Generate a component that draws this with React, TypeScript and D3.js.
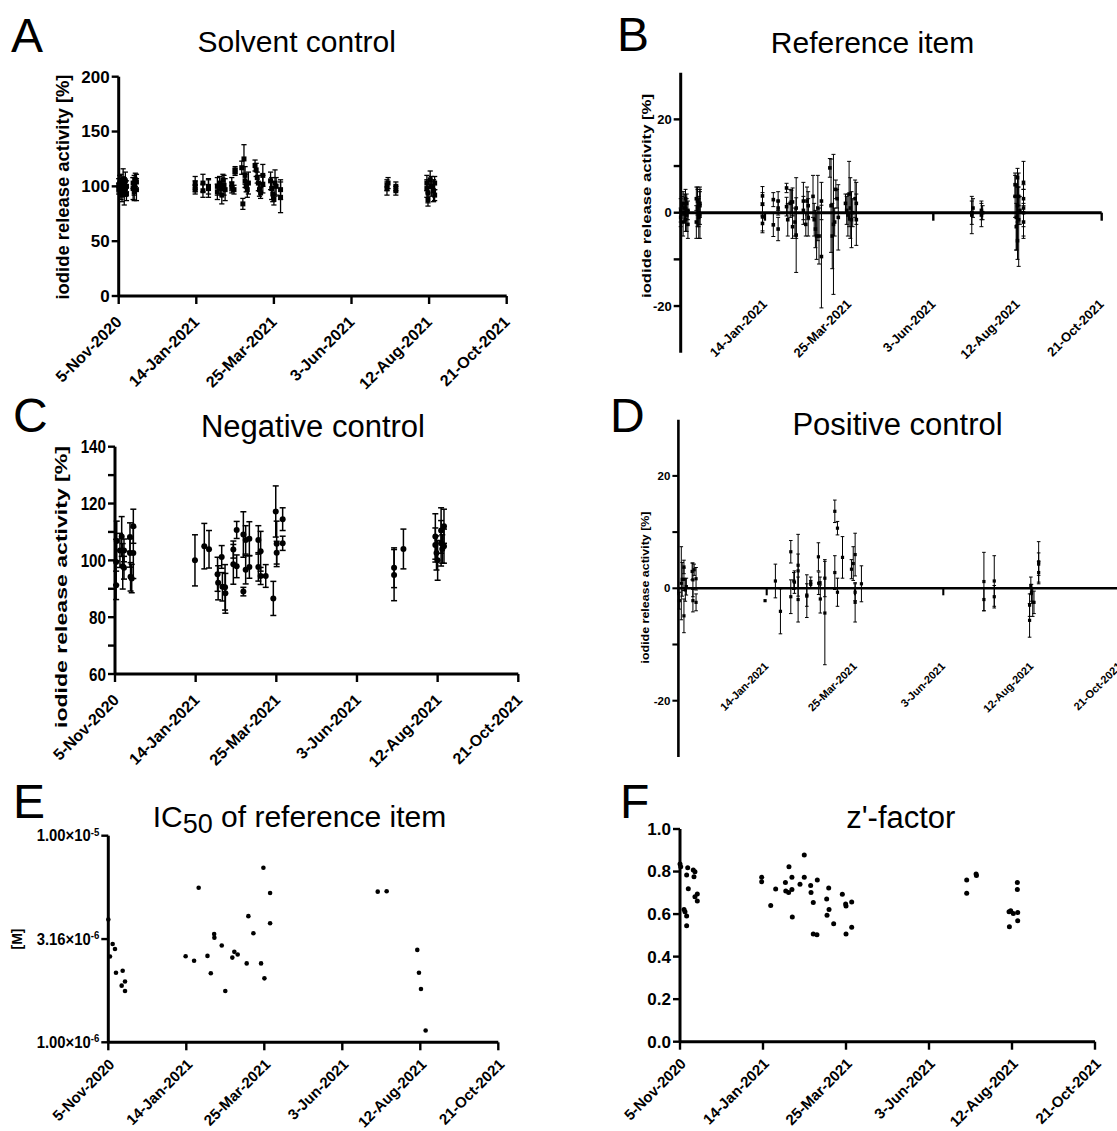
import React from 'react';
import * as d3 from 'd3';

type Pt = [number, number, number];
type P2 = [number, number];

// x positions are days after 5-Nov-2020
const tickDays = [0, 70, 140, 210, 280, 350];
const tickDates = ['5-Nov-2020', '14-Jan-2021', '25-Mar-2021', '3-Jun-2021', '12-Aug-2021', '21-Oct-2021'];

const solventCtrl: Pt[] = [
  [0, 101, 6], [0, 98, 5], [1, 103, 7], [2, 96, 8], [2, 104, 7], [3, 100, 5], [3, 92, 6], [4, 107, 9], [4, 99, 4],
  [5, 95, 12], [5, 102, 6], [6, 98, 7], [6, 105, 8], [7, 100, 5], [7, 93, 6],
  [13, 98, 10], [13, 103, 5], [14, 95, 8], [14, 101, 9], [15, 106, 6], [16, 97, 10], [16, 104, 7],
  [69, 100, 5], [69, 97, 4], [69, 103, 6],
  [76, 103, 8], [76, 96, 6], [81, 100, 7], [81, 98, 8],
  [89, 100, 8], [89, 95, 7], [91, 103, 6], [92, 98, 5], [93, 92, 8], [94, 106, 5], [95, 101, 9], [96, 97, 10],
  [102, 99, 5], [102, 102, 6], [104, 97, 4], [105, 115, 3], [105, 113, 3],
  [111, 117, 6], [113, 125, 13], [114, 110, 8], [114, 105, 6], [115, 100, 5], [116, 97, 7], [112, 84, 5], [117, 103, 10],
  [123, 119, 5], [124, 115, 6], [125, 108, 5], [126, 103, 7], [127, 97, 6], [128, 94, 5], [130, 110, 10], [130, 102, 8],
  [137, 105, 8], [138, 98, 10], [139, 93, 7], [140, 88, 5], [141, 103, 12], [142, 100, 8], [146, 97, 9], [146, 90, 14],
  [242, 101, 5], [242, 98, 6], [243, 103, 5], [250, 96, 4], [250, 100, 4],
  [278, 98, 8], [278, 103, 7], [279, 94, 9], [279, 88, 6], [281, 106, 8], [282, 100, 9], [284, 96, 10], [285, 103, 6], [285, 92, 5],
];

const referenceItem: Pt[] = [
  [0, 0.5, 2.5], [0, -1, 2], [1, 1.5, 2], [2, -2, 3], [2, 2, 2.5], [3, 0, 2], [3, 1, 3], [4, -1.5, 2.5], [4, 3, 2],
  [5, -0.5, 3.5], [5, 2, 2], [6, -2.5, 3], [6, 0.5, 2],
  [13, 3, 2.5], [13, -2, 3.5], [14, 1, 4], [14, 2.5, 3], [15, -1, 4.5], [15, 0, 3], [16, 1.5, 4], [16, -0.5, 5], [16, 2, 3],
  [68, 3.6, 2], [68, 1.8, 2.5], [68, -0.9, 3], [68, -2.3, 2],
  [77, 2.8, 1.5], [77, -2.6, 2.5], [81, 2.5, 2], [81, 1, 1.5], [81, -3.5, 2.5],
  [88, 5.3, 1], [88, 1.3, 2], [89, -1.5, 3.5], [91, 2, 3], [92, 2.3, 2.5], [93, 2.3, 3], [93, -3, 2.5], [95, -2, 3], [96, -4.8, 8], [96, 1, 6.5],
  [102, 2.5, 4], [102, 0.5, 3], [104, -2.5, 2.5], [105, 2.5, 3], [106, -1, 4], [106, 1.5, 3],
  [110, 3.5, 4.5], [111, -1.5, 3.5], [112, -3.5, 4], [113, -5, 5], [114, 1, 7], [115, -5, 6], [117, -9.4, 11], [117, 2.5, 4],
  [124, 9.6, 2], [125, 1.5, 10], [126, -5, 7], [127, -2.5, 15], [128, -2, 3], [129, 5, 2], [130, 3, 2], [131, -1, 7],
  [137, 2, 2], [138, 0.5, 3], [139, -0.5, 4.5], [140, 4, 7], [141, 1, 6.5], [142, -1.5, 6], [143, 0, 3], [145, 3, 4], [146, -1.5, 5.5], [146, 2, 4.5],
  [242, -0.5, 4], [242, 0, 2.5], [243, 1, 2], [250, 0.5, 2], [250, -0.5, 2.5], [251, 0, 1.5],
  [278, 6, 2.5], [278, 3.5, 4.5], [279, -3, 5], [279, -1, 7], [280, 1.5, 4], [280, 7.5, 2], [280, -6, 4], [281, -1.5, 10], [281, 3.5, 2], [282, 0.5, 3],
  [285, 6.5, 4.5], [285, 3, 3], [285, 0, 5], [285, -2, 3.5], [285, 1, 4],
];

const negativeCtrl: Pt[] = [
  [1.5, 106.8, 7], [1, 99.4, 8], [1, 91.2, 5], [4.3, 103.5, 6], [5.8, 108.4, 7], [6.7, 97.9, 8], [7.8, 103.5, 4], [7.8, 97.4, 4],
  [13, 108.2, 5], [13, 102.6, 5], [13.5, 94.2, 5], [14.5, 93.6, 5], [15.9, 112, 6], [15.9, 102.6, 9],
  [69.4, 100, 9], [77.5, 105, 8], [81.6, 103.9, 6.6], [89, 95.1, 6], [89.5, 92.1, 6], [92.6, 101.2, 4], [93.2, 90.7, 5], [95.5, 90.5, 8], [95.8, 88.4, 7],
  [102.7, 103.8, 3], [102.7, 98.6, 7], [105.6, 97.9, 4], [105.6, 110.7, 3],
  [111.4, 109.1, 8], [111.4, 89, 1.5], [113.4, 96.7, 5], [113.4, 107.2, 5], [116.6, 107.6, 6], [116.6, 97.7, 4],
  [124.4, 107.2, 5], [124.4, 97.7, 5], [126.4, 103.2, 7], [126.4, 94.5, 3], [130.8, 94.5, 4],
  [137.4, 86.6, 6], [139.5, 117.2, 9], [140.3, 105.8, 8], [140.3, 102.7, 4], [145.5, 114.5, 4], [145.5, 106, 2.5],
  [242.2, 97.4, 7], [242.2, 94.8, 9], [250.3, 104, 7],
  [278, 108.4, 8], [278, 105.4, 6], [279, 102.6, 6], [280, 100, 7], [283, 110.5, 8], [283, 106, 8], [284, 104, 5], [285.5, 112, 6], [285.5, 105, 6],
];

const positiveCtrl: Pt[] = [
  [0.7, -2.2, 1.5], [2.3, 0.9, 6.5], [3, 1.6, 3], [4.4, 3.8, 1.2], [4.4, 1.6, 2], [4.4, -4.9, 3], [5.5, -0.3, 2], [6.3, 0.3, 1.5],
  [10.9, 3, 1.5], [11.5, 1.5, 3], [11.5, -2.2, 2], [12.5, 3.3, 1], [14, 1.7, 2], [14, -2.5, 1.5],
  [68.7, -2.2, 0], [76.9, 1.3, 3], [80.9, -4.1, 4], [89.1, 6.5, 2], [89.1, -1.5, 3], [91.5, 1.3, 1.5], [92, 1.1, 2], [94.9, 4.1, 5.5], [94.9, 3.1, 3], [94.9, -2, 4],
  [101.8, -1.4, 3.8], [101.8, -1.2, 2], [104.9, 0.7, 0.7], [104.9, 1, 1], [111, 5.6, 2.5], [111.2, 0.9, 2], [112.3, 1, 1], [112.5, -1.9, 2.5],
  [116.1, 1.8, 3.3], [116.1, -4.4, 9.2], [124, 13.7, 2], [124, 2.8, 3], [126.1, 10.7, 1.2], [126.1, -0.7, 2.5], [130.1, 5.5, 3.7],
  [137.2, 3.4, 1.7], [138.6, 4.4, 3], [140.1, 6, 3.8], [140.1, -0.7, 1.5], [140.1, -2.5, 3.5], [145.1, 0.8, 3.2],
  [242.2, 1.2, 5.2], [242.2, -2, 2], [250.4, 1.3, 4.5], [250.4, -1.5, 2],
  [278.4, -3, 2], [278.4, -5.7, 3], [279.4, 0.5, 1.5], [279.9, -0.8, 1.5], [280.9, -2.5, 2.5], [281.9, -2.5, 2], [285.6, 4.7, 3.6], [285.6, 4.3, 2], [285.6, 2.8, 2],
];

const ic50Values: P2[] = [
  [0, 3.93e-6], [1.5, 2.6e-6], [3.9, 2.99e-6], [6, 2.83e-6], [6.9, 2.17e-6], [12, 1.88e-6], [12.9, 2.22e-6], [15, 1.97e-6], [15, 1.77e-6],
  [69.4, 2.61e-6], [77, 2.48e-6], [81.1, 5.6e-6], [89, 2.62e-6], [92, 2.16e-6], [95, 3.34e-6], [95.2, 3.21e-6], [101.8, 2.94e-6], [105, 1.77e-6],
  [111.3, 2.57e-6], [113.1, 2.74e-6], [116.1, 2.66e-6], [124.2, 2.41e-6], [125.7, 4.08e-6], [130.2, 3.37e-6], [137.1, 2.41e-6], [139.2, 7.0e-6],
  [140.1, 2.04e-6], [145.2, 5.28e-6], [145.2, 3.77e-6],
  [241.8, 5.36e-6], [249.8, 5.38e-6], [277.3, 2.8e-6], [278.8, 2.17e-6], [280.6, 1.81e-6], [284.8, 1.14e-6],
];

const zFactor: P2[] = [
  [0, 0.835], [0.6, 0.823], [3.4, 0.622], [4.2, 0.611], [5.6, 0.591], [5.6, 0.545], [5.6, 0.784], [6.5, 0.818], [7, 0.719],
  [11.2, 0.807], [11.8, 0.776], [12.6, 0.799], [12.6, 0.682], [14.6, 0.694], [14.6, 0.661],
  [68.9, 0.773], [68.9, 0.752], [76.5, 0.64], [80.7, 0.718], [88.9, 0.748], [89.2, 0.708], [91.6, 0.701], [91.9, 0.823],
  [94.4, 0.773], [94.4, 0.716], [94.7, 0.586], [101.2, 0.74], [104.8, 0.878], [104.8, 0.773], [110.2, 0.734], [110.5, 0.702],
  [112.4, 0.655], [112.4, 0.506], [115.5, 0.503], [115.8, 0.76], [123.7, 0.671], [124, 0.594], [125.4, 0.723], [125.7, 0.622],
  [129.6, 0.555], [136.9, 0.693], [139.7, 0.647], [140, 0.638], [140, 0.506], [144.8, 0.657], [144.8, 0.538],
  [241.8, 0.76], [241.8, 0.698], [249.7, 0.788], [250, 0.781], [277.5, 0.611], [277.8, 0.541], [278.9, 0.616], [281.1, 0.603],
  [284.5, 0.748], [284.5, 0.716], [284.8, 0.607], [284.8, 0.569],
];

const FONT = '"Liberation Sans", Arial, Helvetica, sans-serif';

type Scale = (v: number) => number;

function ErrorMarks({ data, x, y, marker, ms, cap, ew }: { data: Pt[]; x: Scale; y: Scale; marker: 'square' | 'circle'; ms: number; cap: number; ew: number }) {
  return (
    <g>
      {data.map(([d, v, e], i) => {
        const cx = x(d);
        const cy = y(v);
        const y1 = y(v + e);
        const y2 = y(v - e);
        return (
          <g key={i}>
            {e > 0 && (
              <g stroke="#000" strokeWidth={ew}>
                <line x1={cx} x2={cx} y1={y1} y2={y2} />
                <line x1={cx - cap} x2={cx + cap} y1={y1} y2={y1} />
                <line x1={cx - cap} x2={cx + cap} y1={y2} y2={y2} />
              </g>
            )}
            {marker === 'square' ? (
              <rect x={cx - ms / 2} y={cy - ms / 2} width={ms} height={ms} fill="#000" />
            ) : (
              <circle cx={cx} cy={cy} r={ms / 2} fill="#000" />
            )}
          </g>
        );
      })}
    </g>
  );
}

function Dots({ data, x, y, r }: { data: P2[]; x: Scale; y: Scale; r: number }) {
  return (
    <g>
      {data.map(([d, v], i) => (
        <circle key={i} cx={x(d)} cy={y(v)} r={r} fill="#000" />
      ))}
    </g>
  );
}

function YAxis({ x0, y, top, bottom, ticks, minor = [], fmt, font, len, w, sx = 1 }: {
  x0: number; y: Scale; top: number; bottom: number; ticks: number[]; minor?: number[]; fmt: (v: number) => any; font: number; len: number; w: number; sx?: number;
}) {
  return (
    <g>
      <line x1={x0} x2={x0} y1={top} y2={bottom} stroke="#000" strokeWidth={w} />
      {[...ticks, ...minor].map((t, i) => (
        <line key={'t' + i} x1={x0 - len} x2={x0} y1={y(t)} y2={y(t)} stroke="#000" strokeWidth={w * 0.8} />
      ))}
      {ticks.map((t, i) => (
        <text key={'l' + i} transform={`translate(${x0 - len - 2},${y(t)}) scale(${sx},1)`} dy="0.35em" textAnchor="end" fontSize={font} fontWeight="bold" fontFamily={FONT}>
          {fmt(t)}
        </text>
      ))}
    </g>
  );
}

function XAxis({ x, yPix, labelY, font, len, w, skipFirst = false, dx = 4 }: {
  x: Scale; yPix: number; labelY: number; font: number; len: number; w: number; skipFirst?: boolean; dx?: number;
}) {
  const x0 = x(tickDays[0]);
  const x1 = x(tickDays[tickDays.length - 1]);
  return (
    <g>
      <line x1={x0} x2={x1} y1={yPix} y2={yPix} stroke="#000" strokeWidth={w} />
      {tickDays.map((t, i) => (
        <line key={'t' + i} x1={x(t)} x2={x(t)} y1={yPix} y2={yPix + len} stroke="#000" strokeWidth={w * 0.8} />
      ))}
      {tickDays.map((t, i) =>
        skipFirst && i === 0 ? null : (
          <text key={'l' + i} transform={`translate(${x(t) + dx},${labelY}) rotate(-45)`} textAnchor="end" fontSize={font} fontWeight="bold" fontFamily={FONT}>
            {tickDates[i]}
          </text>
        )
      )}
    </g>
  );
}

function YLabel({ cx, cy, text, font, length }: { cx: number; cy: number; text: string; font: number; length: number }) {
  return (
    <text transform={`translate(${cx},${cy}) rotate(-90)`} textAnchor="middle" dy="0.35em" fontSize={font} fontWeight="bold" fontFamily={FONT} textLength={length} lengthAdjust="spacingAndGlyphs">
      {text}
    </text>
  );
}

export default function App() {
  const ylab = 'iodide release activity [%]';

  // Panel A
  const xA = d3.scaleLinear().domain([0, 350]).range([118.7, 506.7]);
  const yA = d3.scaleLinear().domain([0, 200]).range([296, 76.7]);
  // Panel B
  const xB = d3.scaleLinear().domain([0, 350]).range([680.7, 1101.7]);
  const yB = d3.scaleLinear().domain([-30, 30]).range([352.7, 72.7]);
  // Panel C
  const xC = d3.scaleLinear().domain([0, 350]).range([115, 518.3]);
  const yC = d3.scaleLinear().domain([60, 140]).range([674, 446.7]);
  // Panel D
  const xD = d3.scaleLinear().domain([0, 350]).range([678.4, 1119.9]);
  const yD = d3.scaleLinear().domain([-30, 30]).range([756.9, 419.7]);
  // Panel E
  const xE = d3.scaleLinear().domain([0, 350]).range([108.3, 498.3]);
  const yE = d3.scaleLog().domain([1e-6, 1e-5]).range([1042.3, 835.7]);
  // Panel F
  const xF = d3.scaleLinear().domain([0, 350]).range([680, 1095]);
  const yF = d3.scaleLinear().domain([0, 1]).range([1041.7, 829]);

  const expFmt = (v: number) => {
    const e = Math.floor(Math.log10(v) + 1e-9);
    const m = v / Math.pow(10, e);
    return (
      <>
        <tspan>{m.toFixed(2)}×10</tspan>
        <tspan dy="-0.55em" fontSize="0.65em">{e}</tspan>
      </>
    );
  };

  const letter = (t: string, x: number, y: number) => (
    <text x={x} y={y} fontSize={48} fontFamily={FONT}>{t}</text>
  );
  const title = (t: string, x: number, y: number, fs: number) => (
    <text x={x} y={y} fontSize={fs} fontFamily={FONT} textAnchor="middle">{t}</text>
  );

  return (
    <svg width={1117} height={1131} style={{ position: 'absolute', left: 0, top: 0, background: '#fff' }}>
      <rect width={1117} height={1131} fill="#fff" />

      {/* A */}
      {letter('A', 11, 51.7)}
      {title('Solvent control', 296.7, 52.3, 30)}
      <YLabel cx={63} cy={187} text={ylab} font={18} length={225} />
      <ErrorMarks data={solventCtrl} x={xA} y={yA} marker="square" ms={5} cap={2.6} ew={1.3} />
      <XAxis x={xA} yPix={yA(0)} labelY={yA(0) + 27} font={16} len={8} w={3} dx={4} />
      <YAxis x0={xA(0)} y={yA} top={yA(200)} bottom={yA(0)} ticks={[0, 50, 100, 150, 200]} fmt={(v) => String(v)} font={17} len={7} w={3} />

      {/* B */}
      {letter('B', 617, 50.7)}
      {title('Reference item', 872.5, 52.7, 30)}
      <YLabel cx={647} cy={196} text={ylab} font={12} length={204} />
      <ErrorMarks data={referenceItem} x={xB} y={yB} marker="square" ms={3.6} cap={2} ew={1} />
      <XAxis x={xB} yPix={yB(0)} labelY={305} font={13} len={8} w={3} skipFirst dx={3} />
      <YAxis x0={xB(0)} y={yB} top={yB(30)} bottom={yB(-30)} ticks={[-20, 0, 20]} minor={[-10, 10]} fmt={(v) => String(v)} font={13} len={7} w={3} />

      {/* C */}
      {letter('C', 13, 431.7)}
      {title('Negative control', 313, 437, 31)}
      <YLabel cx={61} cy={587} text={ylab} font={17} length={282} />
      <ErrorMarks data={negativeCtrl} x={xC} y={yC} marker="circle" ms={6} cap={3} ew={1.5} />
      <XAxis x={xC} yPix={yC(60)} labelY={yC(60) + 27} font={16} len={8} w={3} dx={5} />
      <YAxis x0={xC(0)} y={yC} top={yC(140)} bottom={yC(60)} ticks={[60, 80, 100, 120, 140]} minor={[70, 90, 110, 130]} fmt={(v) => String(v)} font={19} len={7} w={3} sx={0.8} />

      {/* D */}
      {letter('D', 610, 432)}
      {title('Positive control', 897.5, 435, 31)}
      <YLabel cx={645} cy={587.5} text={ylab} font={11} length={152} />
      <ErrorMarks data={positiveCtrl} x={xD} y={yD} marker="square" ms={3.2} cap={1.8} ew={1} />
      <XAxis x={xD} yPix={yD(0)} labelY={667} font={11} len={7} w={2.6} skipFirst dx={2.5} />
      <YAxis x0={xD(0)} y={yD} top={yD(30)} bottom={yD(-30)} ticks={[-20, 0, 20]} minor={[-10, 10]} fmt={(v) => String(v)} font={11.5} len={6} w={2.6} />

      {/* E */}
      {letter('E', 13, 818.3)}
      <text x={152.7} y={826.7} fontSize={30} fontFamily={FONT}>
        IC<tspan fontSize={27} dy={6}>50</tspan>
        <tspan dy={-6}> of reference item</tspan>
      </text>
      <text transform={`translate(17,939) rotate(-90)`} textAnchor="middle" dy="0.35em" fontSize={14} fontWeight="bold" fontFamily={FONT}>[M]</text>
      <Dots data={ic50Values} x={xE} y={yE} r={2.3} />
      <XAxis x={xE} yPix={yE(1e-6)} labelY={yE(1e-6) + 23} font={15} len={8} w={3} dx={7} />
      <YAxis x0={xE(0)} y={yE} top={yE(1e-5)} bottom={yE(1e-6)} ticks={[1e-6, 3.16e-6, 1e-5]} fmt={expFmt} font={16.5} len={7} w={3} sx={0.9} />

      {/* F */}
      {letter('F', 620, 818)}
      {title("z'-factor", 900.8, 828.3, 31)}
      <Dots data={zFactor} x={xF} y={yF} r={2.5} />
      <XAxis x={xF} yPix={yF(0)} labelY={yF(0) + 23} font={15} len={8} w={3} dx={7} />
      <YAxis x0={xF(0)} y={yF} top={yF(1)} bottom={yF(0)} ticks={[0, 0.2, 0.4, 0.6, 0.8, 1.0]} fmt={(v) => v.toFixed(1)} font={17} len={7} w={3} />
    </svg>
  );
}
